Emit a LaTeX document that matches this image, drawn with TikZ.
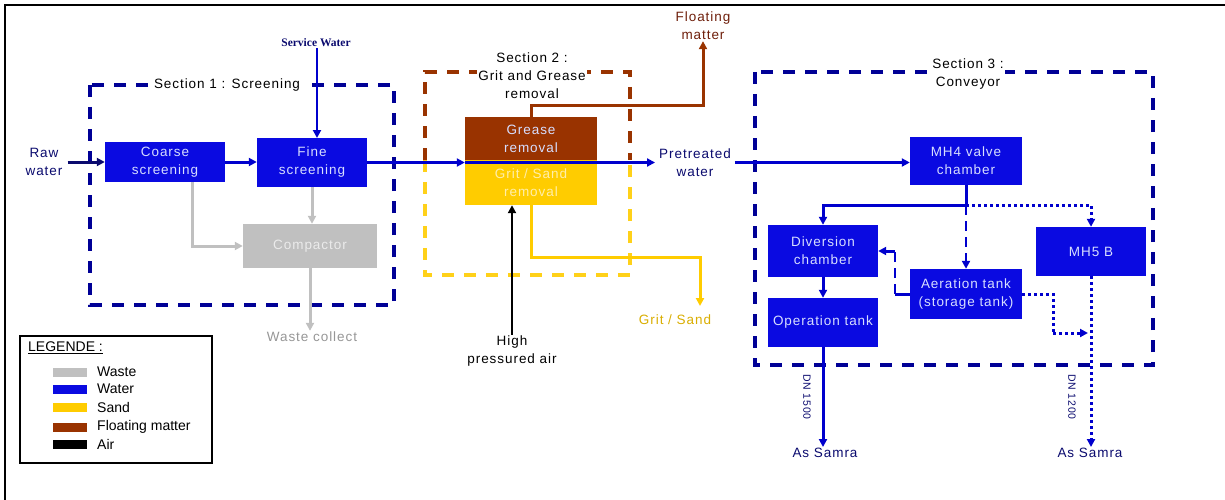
\documentclass[tikz,border=0pt]{standalone}
\usepackage{fontspec}
\setmainfont{Liberation Sans}[LetterSpace=7]
\newfontfamily\legfont{Liberation Sans}
\newfontfamily\svcfont{Liberation Serif}
\usetikzlibrary{arrows.meta,calc}
\definecolor{boxblue}{RGB}{10,10,225}
\definecolor{lineblue}{RGB}{0,0,205}
\definecolor{navy}{RGB}{10,10,110}
\definecolor{secblue}{RGB}{0,0,150}
\definecolor{boxtext}{RGB}{215,222,255}
\definecolor{brownc}{RGB}{153,51,0}
\definecolor{browntext}{RGB}{110,30,10}
\definecolor{yellowc}{RGB}{255,204,0}
\definecolor{yellowtext}{RGB}{255,238,170}
\definecolor{grayc}{RGB}{192,192,192}
\definecolor{graytext}{RGB}{150,150,150}
\tikzset{
  x=1pt,y=-1pt,
  every node/.style={font=\fontsize{13.5}{18}\selectfont, inner sep=1pt, align=center},
  proc/.style={rectangle, fill=boxblue, text=boxtext, minimum width=#1, inner sep=0pt},
  lbl/.style={text=navy},
  tip/.style={-{Triangle[length=8pt,width=8pt]}},
  wflow/.style={draw=lineblue, line width=3pt, tip},
  wline/.style={draw=lineblue, line width=3pt},
  gflow/.style={draw=grayc, line width=3pt, tip},
  bflow/.style={draw=brownc, line width=3pt, tip},
  yflow/.style={draw=yellowc, line width=3pt, tip},
  aflow/.style={draw=black, line width=2.6pt, tip},
  secline/.style={line width=3.2pt, dash pattern=on 12pt off 10pt},
  sectitle/.style={fill=white, text=black, inner sep=3pt},
  dotline/.style={draw=lineblue, line width=3pt, dash pattern=on 3pt off 3pt},
  dashline/.style={draw=lineblue, line width=2.6pt, dash pattern=on 10pt off 6pt},
  swatch/.style={minimum width=34pt, minimum height=9pt, inner sep=0pt},
  leg/.style={font=\legfont\fontsize{14}{16}\selectfont, anchor=west, inner sep=0pt}
}
\begin{document}
\begin{tikzpicture}
\useasboundingbox (0,0) rectangle (1225,500);
% frame
\draw[line width=2pt] (1225,5) -- (5,5) -- (5,500);

% section boxes
\draw[secblue, secline] (90,85) rectangle (394,305);
\draw[brownc, secline] (425,160) -- (425,72) -- (630,72) -- (630,160);
\draw[yellowc!90!white, secline] (425,160) -- (425,275) -- (630,275) -- (630,160);
\draw[secblue, secline] (755,72) rectangle (1153,365);
\node[sectitle] (s1) at (227,85) {Section 1 : Screening};
\node[sectitle, inner sep=1pt] (s2) at (532,76) {Section 2 :\\Grit and Grease\\removal};
\node[sectitle, inner sep=1pt] (s3) at (968,74) {Section 3 :\\Conveyor};

% process boxes
\node[proc=120pt, minimum height=40pt] (coarse) at (165,162) {Coarse\\screening};
\node[proc=110pt, minimum height=49pt] (fine) at (312,162.5) {Fine\\screening};
\node[proc=134pt, minimum height=44pt, fill=grayc, text=white!92!black] (comp) at (310,246) {Compactor};
\node[proc=132pt, minimum height=43pt, fill=brownc] (grease) at (531,138.5) {Grease\\removal};
\node[proc=132pt, minimum height=45pt, fill=yellowc, text=yellowtext] (grit) at (531,182.5) {Grit / Sand\\removal};
\node[proc=112pt, minimum height=48pt] (mh4) at (966,161) {MH4 valve\\chamber};
\node[proc=110pt, minimum height=52pt] (div) at (823,251) {Diversion\\chamber};
\node[proc=110pt, minimum height=49pt] (op) at (823,322.5) {Operation tank};
\node[proc=112pt, minimum height=50pt] (aer) at (966,294) {Aeration tank\\(storage tank)};
\node[proc=110pt, minimum height=49pt] (mh5) at (1091,251.5) {MH5 B};

% labels
\node[lbl, inner sep=5pt] (raw) at (44,162) {Raw\\water};
\node[text=navy, font=\svcfont\bfseries\fontsize{11.5}{12}\selectfont] (svc) at (316,43) {Service Water};
\node[text=graytext] (waste) at (312,337) {Waste collect};
\node[text=browntext] (float) at (703,26) {Floating\\matter};
\node[lbl, inner sep=4pt] (pre) at (695,162.5) {Pretreated\\water};
\node[text=black] (air) at (512,351) {High\\pressured air};
\node[text=yellowc!85!black] (gs) at (675,320) {Grit / Sand};
\node[lbl] (sam1) at (825,453) {As Samra};
\node[lbl] (sam2) at (1090,453) {As Samra};
\node[lbl, rotate=-90, font=\fontsize{10.5}{12}\selectfont] (dn1) at (807,397) {DN 1500};
\node[lbl, rotate=-90, font=\fontsize{10.5}{12}\selectfont] (dn2) at (1072,397) {DN 1200};

% coordinates
\coordinate (gsend) at (700,306);
\coordinate (j) at (966,205);
\coordinate (av) at (895,294);
\coordinate (ad) at (1053,294);
\coordinate (mh5in) at (1088,333);

% section 1 flows
\draw[wflow, draw=navy] (raw.east |- coarse.west) -- (coarse.west);
\draw[wflow] (coarse.east) -- (coarse.east -| fine.west);
\draw[draw=lineblue, line width=2.2pt, tip] (svc.south -| 317,0) -- (317,138);
\draw[gflow] ([xshift=27pt]coarse.south) |- (comp.west);
\draw[gflow] (fine.south) -- (fine.south |- comp.north);
\draw[gflow] (comp.south) -- (comp.south |- waste.north);

% section 2 flows
\draw[wflow] (fine.east) -- (fine.east -| grease.west);
\draw[wflow] (fine.east -| grease.west) -- (pre.west);
\draw[bflow] (grease.north) -- ++(0,-11) -| (float.south);
\draw[aflow] (air.north) -- (air.north |- grit.south);
\draw[yflow] (grit.south) |- (gsend |- 0,257) -- (gsend);

% section 3 flows
\draw[wflow] (pre.east) -- (pre.east -| mh4.west);
\draw[wline] (mh4.south) -- (j);
\draw[wflow] (j) -| (div.north);
\draw[dotline, tip] (j) -| (mh5.north);
\draw[dashline, tip] (j) -- (aer.north);
\draw[wline] (aer.west) -- (av);
\draw[dashline] (av) -- (av |- div.east);
\draw[wflow] (av |- div.east) -- (div.east);
\draw[wflow] (div.south) -- (op.north);
\draw[dotline] (aer.east) -- (ad) -- (ad |- mh5in);
\draw[dotline, tip] (ad |- mh5in) -- (mh5in);
\draw[dotline, tip] (mh5.south) -- (mh5.south |- sam2.north);
\draw[wflow] (op.south) -- (op.south |- sam1.north);

% legend
\node[draw=black, line width=1.5pt, minimum width=192pt, minimum height=127pt, inner sep=0pt] (legbox) at (116,399.5) {};
\node[leg, text=black] (legt) at (28,348) {\underline{LEGENDE :}};
\node[swatch, fill=grayc] (sw1) at (70,372) {};
\node[swatch, fill=boxblue] (sw2) at (70,389) {};
\node[swatch, fill=yellowc] (sw3) at (70,407) {};
\node[swatch, fill=brownc] (sw4) at (70,427) {};
\node[swatch, fill=black] (sw5) at (70,444) {};
\node[leg] (l1) at (97,372) {Waste};
\node[leg] (l2) at (97,389) {Water};
\node[leg] (l3) at (97,407) {Sand};
\node[leg] (l4) at (97,427) {Floating matter};
\node[leg] (l5) at (97,444) {Air};
\end{tikzpicture}
\end{document}
